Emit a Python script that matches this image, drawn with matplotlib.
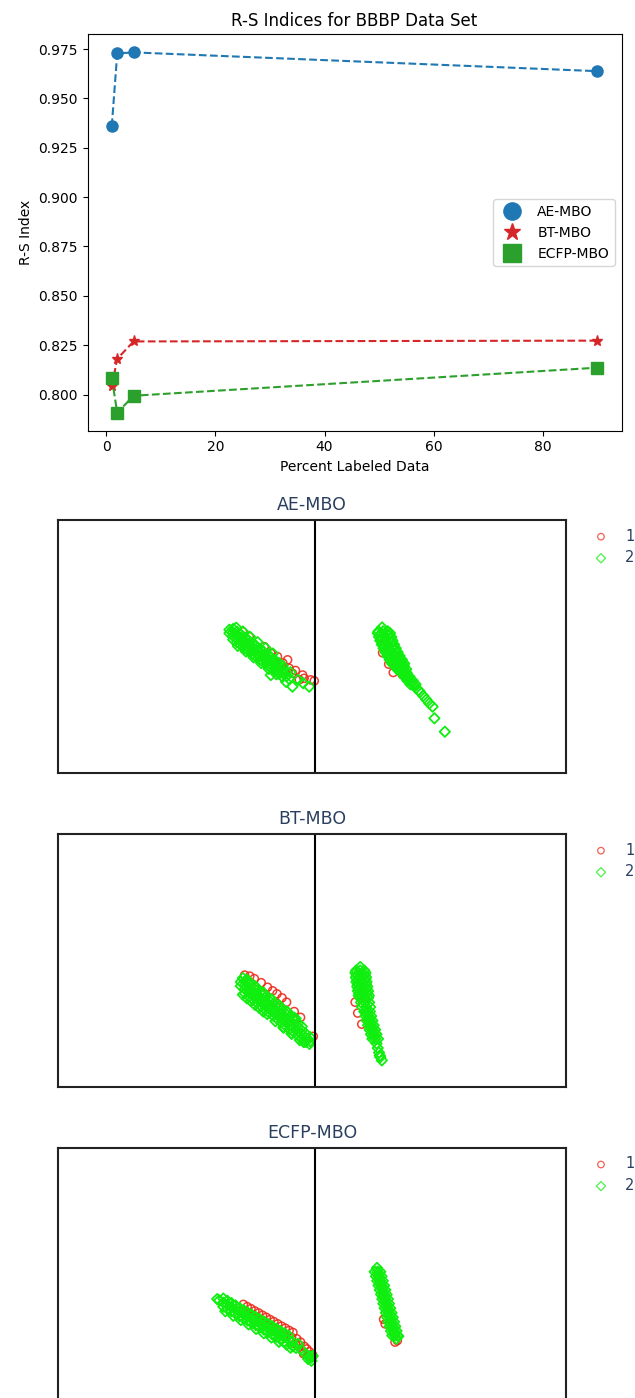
import matplotlib
matplotlib.use("Agg")
import matplotlib.pyplot as plt

# ---------------- top chart data ----------------
pct_labeled = [1, 2, 5, 90]
ae_mbo = [0.9360, 0.9728, 0.9733, 0.9638]
bt_mbo = [0.8041, 0.8181, 0.8269, 0.8273]
ecfp_mbo = [0.8085, 0.7908, 0.7994, 0.8136]
series_names = ["AE-MBO", "BT-MBO", "ECFP-MBO"]

# ---------------- scatter panel data (embedding coordinates) ----------------
ae_red = [(-28.3, 5.8), (-25.7, 3.9), (-19.8, -0.1), (-17.2, -2.7), (-15.9, -6.0), (-14.6, -4.0),
          (-13.3, -7.3), (-11.9, -9.3), (-10.6, -5.3), (-10.0, -8.6), (-8.7, -10.6), (-6.0, -13.2),
          (-4.7, -11.3), (-4.1, -12.6), (-1.5, -13.2), (-0.1, -13.6), (-7.5, -9.5), (-12.5, -6.5),
          (26.8, -2.5), (29.2, -7.0), (31.0, -10.3), (28.0, 2.0), (31.5, -4.0), (34.5, -11.0)]
ae_green = [(-32, 6.9), (-30.5, 5.8), (-29, 4.7), (-27.5, 3.5), (-26, 2.4), (-24.5, 1.3), (-23, 0.2),
            (-21.5, -1.0), (-20, -2.1), (-18.5, -3.2), (-17, -4.4), (-15.5, -5.5), (-14, -6.6), (-12.5, -7.7),
            (-33.5, 6.6), (-32, 5.5), (-30.5, 4.4), (-29, 3.3), (-27.5, 2.1), (-26, 1.0), (-24.5, -0.1),
            (-23, -1.3), (-21.5, -2.4), (-20, -3.5), (-18.5, -4.6), (-17, -5.8), (-15.5, -6.9), (-14, -8.0),
            (-12.5, -9.1), (-11, -10.3),
            (-33.5, 5.2), (-32, 4.1), (-30.5, 3.0), (-29, 1.9), (-27.5, 0.7), (-26, -0.4), (-24.5, -1.5),
            (-23, -2.7), (-21.5, -3.8), (-20, -4.9), (-18.5, -6.0), (-17, -7.2), (-15.5, -8.3), (-14, -9.4),
            (-12.5, -10.5), (-11, -11.7),
            (-32, 2.7), (-30.5, 1.6), (-29, 0.5), (-27.5, -0.7), (-26, -1.8), (-24.5, -2.9), (-23, -4.1),
            (-21.5, -5.2), (-20, -6.3), (-18.5, -7.4), (-17, -8.6), (-15.5, -9.7), (-14, -10.8),
            (-30.8, 7.4), (-28.2, 5.9), (-25.4, 3.8), (-22.4, 1.7), (-19.3, -0.6), (-16.4, -2.8),
            (-30.2, 0.2), (-27.0, -2.0), (-24.0, -4.3), (-21.0, -6.6), (-18.0, -8.9), (-15.0, -11.0),
            (-17.2, -11.3), (-12.6, -12.0), (-8.7, -15.9), (-2.1, -15.9), (-10, -12.8), (-6.5, -13.2),
            (-9.5, -10.2), (-11.2, -14.0), (-4.5, -14.5),
            (26.6, 7.5), (27.0, 6), (27.5, 4.5), (28.0, 3), (28.6, 1.5), (29.2, 0), (29.9, -1.5), (30.7, -3),
            (31.5, -4.5), (32.4, -6), (33.3, -7.5), (34.3, -9), (35.3, -10.5), (36.4, -12), (37.6, -13.5),
            (38.8, -15), (40.0, -16.5),
            (25.2, 6), (25.7, 4.5), (26.2, 3), (26.8, 1.5), (27.4, 0), (28.1, -1.5), (28.9, -3), (29.7, -4.5),
            (30.6, -6), (31.5, -7.5), (32.5, -9),
            (28.8, 6), (29.3, 4.5), (29.8, 3), (30.4, 1.5), (31.0, 0), (31.7, -1.5), (32.5, -3), (33.3, -4.5),
            (34.2, -6), (35.1, -7.5), (36.1, -9),
            (34.3, -10.5), (36.3, -10.5), (35.4, -12), (37.4, -12), (36.6, -13.5), (38.6, -13.5), (37.8, -15),
            (39.8, -15),
            (26.4, 5.25), (28.1, 5.25), (27.4, 2.25), (29.2, 2.25), (28.6, -0.75), (30.5, -0.75), (30.2, -3.75),
            (32.0, -3.75), (31.9, -6.75), (33.8, -6.75),
            (24.9, 5.25), (25.4, 3.75), (25.9, 2.25), (26.5, 0.75), (27.2, -0.75), (27.9, -2.25), (28.7, -3.75),
            (29.6, -5.25), (30.5, -6.75),
            (29.7, 5.25), (30.2, 3.75), (30.7, 2.25), (31.3, 0.75), (32.0, -0.75), (32.7, -2.25), (33.5, -3.75),
            (34.4, -5.25), (35.3, -6.75),
            (32.6, -8.25), (35.0, -8.25), (33.9, -9.75), (35.7, -9.75),
            (41.0, -17.3), (41.5, -18), (42.8, -19.5), (44.0, -21), (45.2, -22.5), (46.5, -23.8), (47.2, -28.4),
            (51.3, -33.7)]

bt_red = [(-27.5, -5.8), (-25.5, -6.2), (-23.7, -7.2), (-21, -8.8), (-18.5, -10.6), (-16.5, -12.0),
          (-14.8, -13.2), (-12.8, -14.8), (-11, -16.5), (-8, -20.2), (-5.5, -22.5), (-0.5, -30.0),
          (-20, -13), (-15, -17), (-25, -9),
          (16.0, -16.5), (17.0, -20.8), (18.6, -25.2), (18.5, -9), (20, -15)]
bt_green = [(-27.4, -8.2), (-25.8, -9.5), (-24.2, -10.7), (-22.6, -12.0), (-21, -13.3), (-19.4, -14.6),
            (-17.8, -15.9), (-16.2, -17.1), (-14.6, -18.4), (-13, -19.7), (-11.4, -21.0), (-9.8, -22.3),
            (-8.2, -23.5), (-6.6, -24.8), (-5, -26.1),
            (-29, -8.5), (-27.4, -9.8), (-25.8, -11.1), (-24.2, -12.3), (-22.6, -13.6), (-21, -14.9),
            (-19.4, -16.2), (-17.8, -17.5), (-16.2, -18.7), (-14.6, -20.0), (-13, -21.3), (-11.4, -22.6),
            (-9.8, -23.9), (-8.2, -25.1), (-6.6, -26.4), (-5, -27.7), (-3.4, -29.0), (-1.8, -30.3),
            (-29, -10.1), (-27.4, -11.4), (-25.8, -12.7), (-24.2, -13.9), (-22.6, -15.2), (-21, -16.5),
            (-19.4, -17.8), (-17.8, -19.1), (-16.2, -20.3), (-14.6, -21.6), (-13, -22.9), (-11.4, -24.2),
            (-9.8, -25.5), (-8.2, -26.7), (-6.6, -28.0), (-5, -29.3), (-3.4, -30.6), (-1.8, -31.9),
            (-27.4, -13.0), (-25.8, -14.3), (-24.2, -15.5), (-22.6, -16.8), (-21, -18.1), (-19.4, -19.4),
            (-17.8, -20.7), (-16.2, -21.9), (-14.6, -23.2), (-13, -24.5), (-11.4, -25.8), (-9.8, -27.1),
            (-8.2, -28.3), (-6.6, -29.6), (-5, -30.9), (-3.4, -32.2),
            (-26.6, -15.0), (-23.4, -17.6), (-20.2, -20.2), (-15.4, -24.0), (-12.2, -26.6), (-9, -29.0),
            (-4.2, -32.3), (-2, -33.0),
            (-28.2, -7.0), (-26.0, -8.2), (-23.0, -10.6), (-20.0, -13.0), (-17.0, -15.4), (-14.0, -17.8),
            (-11.0, -20.2), (-8.0, -22.6),
            (-26.6, -7.6), (-23.4, -10.2), (-20.2, -12.7), (-17.0, -15.3), (-13.8, -17.9), (-10.6, -20.4),
            (-7.4, -23.0),
            (-28.2, -13.5), (-25.0, -16.1), (-21.8, -18.7), (-18.6, -21.2), (-12.2, -26.3), (-9.0, -28.9),
            (-5.8, -31.5),
            (18.0, -4), (18.2, -5.8), (18.4, -7.6), (18.6, -9.4), (18.9, -11.2), (19.2, -13), (19.5, -14.8),
            (19.9, -16.6), (20.3, -18.4), (20.7, -20.2), (21.2, -22), (21.7, -23.8), (22.2, -25.6),
            (22.8, -27.4), (23.3, -29.2), (23.9, -31), (24.4, -32.8), (24.9, -34.6), (25.4, -36.4),
            (25.9, -38.2),
            (16.4, -4), (16.6, -5.8), (16.8, -7.6), (17.0, -9.4), (17.3, -11.2), (17.6, -13), (17.9, -14.8),
            (18.3, -16.6), (18.7, -18.4), (19.6, -20.2), (20.1, -22), (20.6, -23.8), (21.1, -25.6),
            (21.7, -27.4), (22.2, -29.2), (22.8, -31),
            (19.6, -4), (19.8, -5.8), (20.0, -7.6), (20.2, -9.4), (20.5, -11.2), (20.8, -13), (21.1, -14.8),
            (21.5, -16.6), (21.9, -18.4), (21.8, -20.2), (22.3, -22), (22.8, -23.8), (23.3, -25.6),
            (23.9, -27.4), (24.4, -29.2), (25.0, -31),
            (16.1, -4.9), (16.3, -6.7), (16.5, -8.5), (16.8, -10.3), (17.1, -12.1), (17.4, -13.9),
            (20.1, -4.9), (20.3, -6.7), (20.5, -8.5), (20.8, -10.3), (21.1, -12.1), (21.4, -13.9),
            (18.0, -2.6), (26.5, -39.5), (25.7, -37.6)]

ecfp_red = [(-28, -11.9), (-26.5, -12.8), (-25, -13.6), (-23.5, -14.5), (-22, -15.3), (-20.5, -16.2),
            (-19, -17.0), (-17.5, -17.9), (-16, -18.7), (-14.5, -19.6), (-13, -20.5), (-11.5, -21.3),
            (-10, -22.2), (-8.5, -23.0),
            (-27, -14.8), (-24, -16.5), (-21, -18.2), (-18, -19.9), (-15, -21.6), (-12, -23.3), (-9, -25.0),
            (-7, -25.5), (-5.5, -26.8), (-4, -28.5), (-3, -29.5), (-2, -30.6), (-0.8, -31.8), (-6, -28),
            (-4.5, -30.5), (-2.5, -32), (-7.5, -27.5), (-4.3, -31.4),
            (27.2, -17.8), (27.8, -19.6), (31.7, -26.8), (32.6, -26.2), (27, -8), (29, -14)]
ecfp_green = [(-35.9, -9.6), (-34.3, -10.5), (-32.7, -11.4), (-31.1, -12.3), (-29.5, -13.3), (-27.9, -14.2),
              (-26.3, -15.1), (-24.7, -16.0), (-23.1, -16.9), (-21.5, -17.8), (-19.9, -18.7), (-18.3, -19.6),
              (-16.7, -20.5), (-15.1, -21.5), (-13.5, -22.4), (-11.9, -23.3), (-10.3, -24.2),
              (-37.5, -10.3), (-35.9, -11.2), (-34.3, -12.1), (-32.7, -13.0), (-31.1, -13.9), (-29.5, -14.9),
              (-27.9, -15.8), (-26.3, -16.7), (-24.7, -17.6), (-23.1, -18.5), (-21.5, -19.4), (-19.9, -20.3),
              (-18.3, -21.2), (-16.7, -22.1), (-15.1, -23.1), (-13.5, -24.0), (-11.9, -24.9), (-10.3, -25.8),
              (-8.7, -26.7),
              (-35.9, -12.8), (-34.3, -13.7), (-32.7, -14.6), (-31.1, -15.5), (-29.5, -16.5), (-27.9, -17.4),
              (-26.3, -18.3), (-24.7, -19.2), (-23.1, -20.1), (-21.5, -21.0), (-19.9, -21.9), (-18.3, -22.8),
              (-16.7, -23.7), (-15.1, -24.7), (-13.5, -25.6), (-11.9, -26.5),
              (-35.1, -14.6), (-32.0, -16.4), (-29.0, -18.1), (-26.0, -19.8), (-23.0, -21.6), (-20.0, -23.3),
              (-17.0, -25.0), (-14.0, -26.7),
              (-38.3, -9.8), (-11, -27.8), (-8.5, -28.5), (-7.3, -29.1), (-5, -30), (-3.5, -31.5), (-2, -32.4),
              (-1.3, -33), (-0.7, -32.3), (-1.2, -34.2), (-2.5, -33.5), (-9.5, -29), (-6.5, -27.5),
              (24.8, 1), (25.3, -0.8), (25.8, -2.6), (26.3, -4.4), (26.8, -6.2), (27.3, -8), (27.8, -9.8),
              (28.2, -11.6), (28.7, -13.4), (29.2, -15.2), (29.7, -17), (30.2, -18.8), (30.7, -20.6),
              (31.2, -22.4), (31.6, -24.2),
              (23.7, 1), (24.2, -0.8), (24.7, -2.6), (25.2, -4.4), (25.7, -6.2), (26.2, -8), (26.7, -9.8),
              (27.1, -11.6), (27.6, -13.4), (28.1, -15.2), (28.6, -17), (29.1, -18.8), (29.6, -20.6),
              (30.1, -22.4), (30.6, -24.2),
              (25.9, 1), (26.4, -0.8), (26.9, -2.6), (27.4, -4.4), (27.9, -6.2), (28.4, -8), (28.9, -9.8),
              (29.3, -11.6), (29.8, -13.4), (30.3, -15.2), (30.8, -17), (31.3, -18.8), (31.8, -20.6),
              (32.3, -22.4), (32.7, -24.2),
              (24.6, 2.5), (32.2, -25.5), (33.0, -24.5)]

class_labels = ["1", "2"]

# ---------------- figure ----------------
fig = plt.figure(figsize=(6.35, 13.98), dpi=100)

ax = fig.add_axes([0.1378, 0.6919, 0.841, 0.2835])
styles = [("tab:blue", "o"), ("tab:red", "*"), ("tab:green", "s")]
for vals, name, (col, mk) in zip([ae_mbo, bt_mbo, ecfp_mbo], series_names, styles):
    ax.plot(pct_labeled, vals, "--", color=col, lw=1.5)
    ax.plot(pct_labeled, vals, linestyle="none", marker=mk, ms=8, color=col, label=name)
ax.set_title("R-S Indices for BBBP Data Set", fontsize=12)
ax.set_xlabel("Percent Labeled Data")
ax.set_ylabel("R-S Index")
ax.legend(loc="center right", markerscale=1.55, numpoints=1)

RED = "#ee2a1a"
GREEN = "#10ee10"
TITLE_C = "#2a3f5f"
panels = [("AE-MBO", ae_red, ae_green, 0.4471),
          ("BT-MBO", bt_red, bt_green, 0.2225),
          ("ECFP-MBO", ecfp_red, ecfp_green, -0.0020)]
for title, reds, greens, bottom in panels:
    a = fig.add_axes([0.0913, bottom, 0.8, 0.181])
    rx, ry = zip(*reds)
    gx, gy = zip(*greens)
    a.scatter(rx, ry, marker="o", s=34, facecolors="none", edgecolors=RED,
              linewidths=1.1, alpha=0.9, label=class_labels[0])
    a.scatter(gx, gy, marker="D", s=28, facecolors="none", edgecolors=GREEN,
              linewidths=1.3, label=class_labels[1])
    a.axvline(0, color="black", lw=1.5)
    a.set_xlim(-101, 99)
    a.set_ylim(-50, 50)
    a.set_xticks([])
    a.set_yticks([])
    for sp in a.spines.values():
        sp.set_linewidth(1.5)
        sp.set_color("#222222")
    a.set_title(title, color=TITLE_C, fontsize=12.5, pad=7)
    leg = a.legend(loc="upper left", bbox_to_anchor=(1.0545, 0.966), frameon=False, borderpad=0,
                   borderaxespad=0, handlelength=1.0, handletextpad=1.15, labelspacing=0.45,
                   fontsize=10.5, labelcolor=TITLE_C, scatterpoints=1)
    for h in leg.legend_handles:
        h.set_sizes([22])
        h.set_linewidth(0.9)
        h.set_alpha(0.75)

fig.savefig("out.png", dpi=100)
